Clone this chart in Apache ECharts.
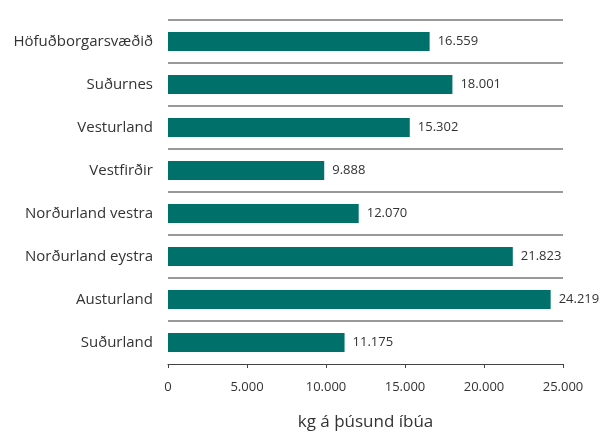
<!DOCTYPE html>
<html>
<head>
<meta charset="utf-8">
<script src="https://cdn.jsdelivr.net/npm/echarts@6/dist/echarts.min.js"></script>
<style>
  html, body { margin: 0; padding: 0; background: #fff; }
  #chart { width: 606px; height: 434px; }
</style>
</head>
<body>
<div id="chart"></div>
<script>
  // landshlutar, efst til neðst
  const regions = ['Höfuðborgarsvæðið', 'Suðurnes', 'Vesturland', 'Vestfirðir',
    'Norðurland vestra', 'Norðurland eystra', 'Austurland', 'Suðurland'];
  const kgPerThousand = [16559, 18001, 15302, 9888, 12070, 21823, 24219, 11175];
  const xTicks = [0, 5000, 10000, 15000, 20000, 25000];
  const axisTitle = 'kg á þúsund íbúa';

  const fmt = v => String(v).replace(/\B(?=(\d{3})+(?!\d))/g, '.');
  const font = '"Open Sans", sans-serif';

  const myChart = echarts.init(document.getElementById('chart'));
  let option = {
    animation: false,
    textStyle: { fontFamily: font },
    grid: { left: 168, right: 43, top: 20, bottom: 70, containLabel: false, outerBoundsMode: 'none' },
    xAxis: {
      type: 'value',
      min: xTicks[0],
      max: xTicks[xTicks.length - 1],
      interval: xTicks[1] - xTicks[0],
      name: axisTitle,
      nameLocation: 'middle',
      nameGap: 50,
      nameTextStyle: { fontSize: 17, color: '#333', fontFamily: font },
      axisLine: { show: true, lineStyle: { color: '#444', width: 1 } },
      axisTick: { show: true, length: 4, inside: false, lineStyle: { color: '#444' } },
      axisLabel: { fontSize: 13, color: '#333', margin: 17, formatter: fmt, fontFamily: font },
      splitLine: { show: false }
    },
    yAxis: {
      type: 'category',
      inverse: true,
      data: regions,
      axisLine: { show: false },
      axisTick: { show: false },
      axisLabel: { fontSize: 15, color: '#333', margin: 15, fontFamily: font },
      splitLine: { show: true, showMaxLine: false, lineStyle: { color: '#777', width: 1.5 } }
    },
    series: [{
      type: 'bar',
      data: kgPerThousand,
      barWidth: 19,
      itemStyle: { color: '#00716a' },
      label: {
        show: true,
        position: 'right',
        distance: 8,
        fontSize: 13,
        color: '#333',
        fontFamily: font,
        formatter: p => fmt(p.value)
      }
    }]
  };
  myChart.setOption(option);
</script>
</body>
</html>
